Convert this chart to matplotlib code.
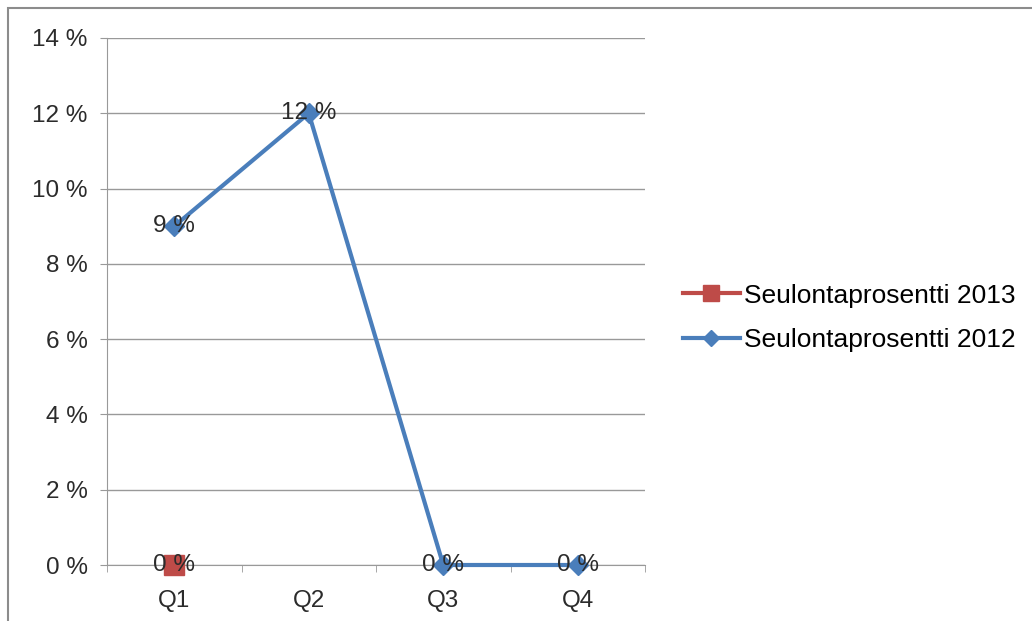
import matplotlib
matplotlib.use("Agg")
import matplotlib.pyplot as plt
from matplotlib.patches import Rectangle
import numpy as np

quarters = ["Q1", "Q2", "Q3", "Q4"]
rate_2013 = [0, None, None, None]
rate_2012 = [9, 12, 0, 0]
y_ticks = [0, 2, 4, 6, 8, 10, 12, 14]

plt.rcParams['font.family'] = ['Liberation Sans', 'DejaVu Sans']
FS = 17.5
TXT = "#2b2b2b"

W, H = 1032, 621
fig = plt.figure(figsize=(W / 100, H / 100), dpi=100)
fig.patches.append(Rectangle((8 / W, -0.1), 1.2, 1 - 8 / H + 0.1, transform=fig.transFigure,
                             fill=False, edgecolor="#8c8c8c", linewidth=1.5))

ax = fig.add_axes([107 / W, 1 - 565 / H, (645 - 107) / W, (565 - 38) / H])
x = np.arange(len(quarters))

blue = "#4a7ebb"
red = "#be4b48"
y13 = np.array([np.nan if v is None else v for v in rate_2013], dtype=float)
ax.plot(x, y13, color=red, marker="s", markersize=14, linewidth=3,
        label="Seulontaprosentti 2013", zorder=3, clip_on=False)
ax.plot(x, rate_2012, color=blue, marker="D", markersize=10, linewidth=3,
        label="Seulontaprosentti 2012", zorder=3, clip_on=False)

for xi, v in zip(x, rate_2013):
    if v is not None:
        ax.text(xi, v, f"{v} %", ha="center", va="center", fontsize=FS, color=TXT, zorder=4)
for xi, v in zip(x, rate_2012):
    ax.text(xi, v, f"{v} %", ha="center", va="center", fontsize=FS, color=TXT, zorder=4)

ax.set_xlim(-0.5, len(quarters) - 0.5)
ax.set_ylim(0, 14)
ax.set_yticks(y_ticks)
ax.set_yticklabels([f"{t} %" for t in y_ticks], fontsize=FS, color=TXT)
ax.set_xticks(x)
ax.set_xticklabels(quarters, fontsize=FS, color=TXT)
ax.set_xticks(np.arange(-0.5, len(quarters)), minor=True)
ax.tick_params(axis="x", which="major", length=0, pad=18)
ax.tick_params(axis="x", which="minor", length=5, color="#999999")
ax.tick_params(axis="y", length=5, color="#999999", pad=9)
ax.grid(True, axis="y", color="#999999", linewidth=1)
for side in ["top", "right"]:
    ax.spines[side].set_visible(False)
ax.spines["left"].set_color("#999999")
ax.spines["bottom"].set_color("#999999")
ax.set_axisbelow(True)

fig.legend(loc="center left", bbox_to_anchor=(683 / W, 1 - 318 / H), frameon=False,
           borderaxespad=0, borderpad=0,
           fontsize=19, handlelength=2.15, handletextpad=0.15, labelspacing=0.78,
           markerscale=0.8)

fig.savefig("out.png", dpi=100)
